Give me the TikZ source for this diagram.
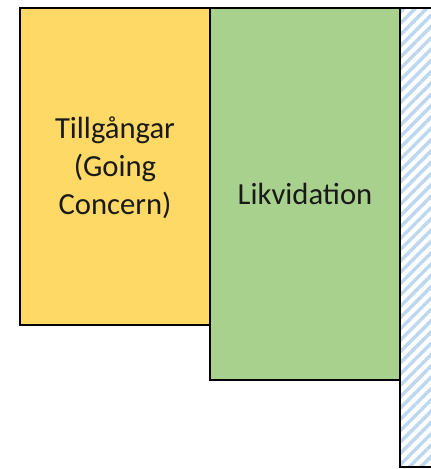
\documentclass[tikz,border=0pt]{standalone}
\usepackage{fontspec}
\setmainfont{Carlito}
\usetikzlibrary{patterns.meta}
\definecolor{gul}{HTML}{FFD966}
\definecolor{gron}{HTML}{A9D18E}
\definecolor{ljusbla}{HTML}{BDD7EE}
\tikzset{blocknode/.style={draw=black,line width=1.6pt}}
\tikzset{textnode/.style={align=center,text=black!90,font=\fontsize{23}{28.5}\selectfont}}

\begin{document}
\begin{tikzpicture}[x=0.75pt,y=-0.75pt]
          \useasboundingbox (0,0) rectangle (431,469);
          \clip (0,0) rectangle (431,469);

          % Staplar
          \draw [blocknode,
                 pattern={Lines[angle=45,distance=6pt,line width=2.6pt]},
                 pattern color=ljusbla] (400,8) rectangle (440,467);
          \draw [blocknode,fill=gron] (210,8) rectangle (400,380);
          \draw [blocknode,fill=gul] (20,8) rectangle (210,325);

          % Texter
          \node [textnode] (tillg) at (115,168) {Tillgångar\\(Going\\Concern)};
          \node [textnode] (likv) at (305,194) {Likvidation};
\end{tikzpicture}
\end{document}
